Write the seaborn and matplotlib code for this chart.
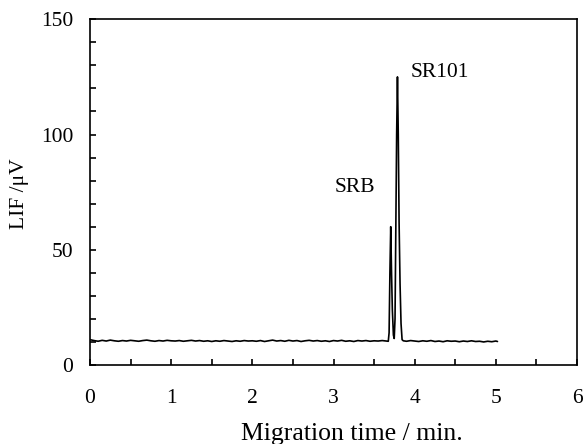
import matplotlib
matplotlib.use("Agg")
import matplotlib.pyplot as plt
import seaborn as sns
import pandas as pd
from matplotlib.ticker import MultipleLocator

# ---- data ----
time_before = [0.00, 0.05, 0.10, 0.15, 0.20, 0.25, 0.30, 0.35, 0.40, 0.45,
               0.50, 0.55, 0.60, 0.65, 0.70, 0.75, 0.80, 0.85, 0.90, 0.95,
               1.00, 1.05, 1.10, 1.15, 1.20, 1.25, 1.30, 1.35, 1.40, 1.45,
               1.50, 1.55, 1.60, 1.65, 1.70, 1.75, 1.80, 1.85, 1.90, 1.95,
               2.00, 2.05, 2.10, 2.15, 2.20, 2.25, 2.30, 2.35, 2.40, 2.45,
               2.50, 2.55, 2.60, 2.65, 2.70, 2.75, 2.80, 2.85, 2.90, 2.95,
               3.00, 3.05, 3.10, 3.15, 3.20, 3.25, 3.30, 3.35, 3.40, 3.45,
               3.50, 3.55, 3.60, 3.65]
lif_before = [11.0, 10.6, 10.3, 10.7, 10.4, 10.8, 10.5, 10.3, 10.6, 10.4,
              10.7, 10.5, 10.3, 10.6, 10.8, 10.5, 10.3, 10.6, 10.4, 10.7,
              10.5, 10.4, 10.6, 10.3, 10.5, 10.7, 10.4, 10.6, 10.3, 10.5,
              10.2, 10.5, 10.3, 10.6, 10.4, 10.2, 10.5, 10.3, 10.6, 10.4,
              10.5, 10.3, 10.6, 10.2, 10.5, 10.8, 10.4, 10.6, 10.3, 10.7,
              10.4, 10.6, 10.2, 10.5, 10.7, 10.4, 10.6, 10.3, 10.5, 10.2,
              10.6, 10.4, 10.7, 10.3, 10.5, 10.2, 10.6, 10.4, 10.6, 10.3,
              10.5, 10.4, 10.6, 10.4]

# SRB and SR101 peaks
time_peaks = [3.675, 3.685, 3.695, 3.705, 3.715, 3.725, 3.738, 3.748,
              3.758, 3.768, 3.778, 3.788, 3.798, 3.808, 3.820, 3.832,
              3.845, 3.860]
lif_peaks = [10.3, 14.0, 40.0, 60.0, 40.0, 24.0, 13.0, 11.5,
             20.0, 60.0, 100.0, 125.0, 100.0, 62.0, 35.0, 18.0,
             11.0, 10.5]

time_after = [3.90, 3.95, 4.00, 4.05, 4.10, 4.15, 4.20, 4.25, 4.30, 4.35,
              4.40, 4.45, 4.50, 4.55, 4.60, 4.65, 4.70, 4.75, 4.80, 4.85,
              4.90, 4.95, 5.00, 5.02]
lif_after = [10.3, 10.6, 10.4, 10.2, 10.5, 10.3, 10.6, 10.2, 10.4, 10.1,
             10.5, 10.3, 10.4, 10.1, 10.4, 10.2, 10.5, 10.2, 10.3, 10.0,
             10.3, 10.1, 10.4, 10.2]

peak_labels = ["SRB", "SR101"]
peak_label_x = [3.26, 4.31]
peak_label_y = [77, 127]

x_label = "Migration time / min."
y_label = "LIF /\u03bcV"

# ---- build table ----
df = pd.DataFrame({
    "time": time_before + time_peaks + time_after,
    "lif": lif_before + lif_peaks + lif_after,
})

sns.set_style("ticks")
plt.rcParams["font.family"] = ["Liberation Serif", "DejaVu Serif"]

FS = 15.5

fig = plt.figure(figsize=(5.85, 4.44), dpi=100)
ax = fig.add_axes([90 / 585, 1 - 365 / 444, (577 - 90) / 585, (365 - 19.3) / 444])

sns.lineplot(data=df, x="time", y="lif", ax=ax, color="black",
             linewidth=1.2, estimator=None, sort=False)

ax.set_xlim(0, 6)
ax.set_ylim(0, 150)
ax.xaxis.set_major_locator(MultipleLocator(1))
ax.xaxis.set_minor_locator(MultipleLocator(0.5))
ax.yaxis.set_major_locator(MultipleLocator(50))
ax.yaxis.set_minor_locator(MultipleLocator(10))

for s in ax.spines.values():
    s.set_linewidth(1.2)
    s.set_color("black")
ax.tick_params(axis="both", which="both", direction="in", length=4.5,
               width=1.2, color="black", labelsize=FS, labelcolor="black")
ax.tick_params(axis="x", which="both", pad=17)
ax.tick_params(axis="y", which="both", pad=12)

ax.set_xlabel(x_label, fontsize=18.5, color="black")
ax.set_ylabel(y_label, fontsize=FS, color="black")
ax.xaxis.set_label_coords(0.538, -0.168)
ax.yaxis.set_label_coords(-0.125, 0.495)

for lab, lx, ly in zip(peak_labels, peak_label_x, peak_label_y):
    ax.text(lx, ly, lab, fontsize=FS, ha="center", va="center", color="black")

fig.savefig("out.png", dpi=100)
